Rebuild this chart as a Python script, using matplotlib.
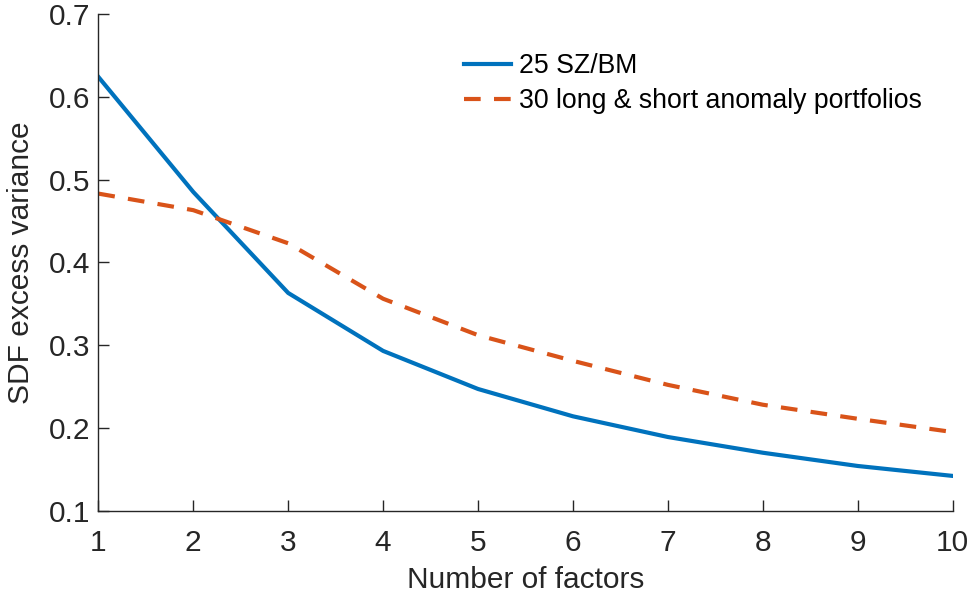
import matplotlib
matplotlib.use('Agg')
import matplotlib.pyplot as plt

# Data
factors = [1, 2, 3, 4, 5, 6, 7, 8, 9, 10]
sz_bm = [0.624, 0.485, 0.363, 0.293, 0.247, 0.214, 0.189, 0.170, 0.154, 0.142]
anomaly = [0.483, 0.463, 0.423, 0.356, 0.312, 0.281, 0.252, 0.228, 0.211, 0.195]
x_ticks = [1, 2, 3, 4, 5, 6, 7, 8, 9, 10]
y_ticks = [0.1, 0.2, 0.3, 0.4, 0.5, 0.6, 0.7]

plt.rcParams['font.family'] = ['Liberation Sans', 'DejaVu Sans']

fig = plt.figure(figsize=(9.74, 5.97), dpi=100)
ax = fig.add_axes([0.101, 0.1446, 0.877, 0.832])

ax.plot(factors, sz_bm, color='#0072BD', lw=3, label='25 SZ/BM')
ax.plot(factors, anomaly, color='#D95319', lw=3, linestyle=(0, (4, 3.2)),
        label='30 long & short anomaly portfolios')

ax.set_xlim(1, 10)
ax.set_ylim(0.1, 0.7)
ax.set_xticks(x_ticks)
ax.set_yticks(y_ticks)
ax.set_yticklabels([f'{v:.1f}' for v in y_ticks])

for side in ['top', 'right']:
    ax.spines[side].set_visible(False)
for side in ['left', 'bottom']:
    ax.spines[side].set_color('#262626')
    ax.spines[side].set_linewidth(1.0)

ax.tick_params(direction='in', length=8, width=1, colors='#262626',
               labelsize=21.5, pad=6)
ax.tick_params(axis='x', pad=13)

ax.set_xlabel('Number of factors', fontsize=21.5, color='#262626', labelpad=7)
ax.set_ylabel('SDF excess variance', fontsize=21.5, color='#262626', labelpad=10)

ax.legend(loc='upper left', bbox_to_anchor=(0.4, 0.97), frameon=False,
          fontsize=19.2, handlelength=1.75, handletextpad=0.3, labelspacing=0.35)

fig.savefig('out.png', dpi=100)
